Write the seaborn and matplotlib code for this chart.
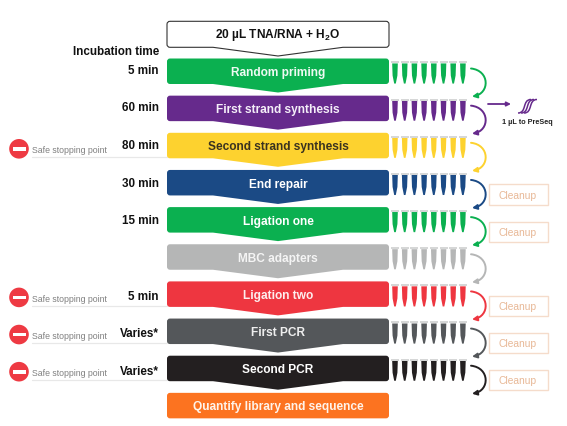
import matplotlib
matplotlib.use("Agg")
import matplotlib.pyplot as plt
from matplotlib.patches import PathPatch, FancyArrowPatch, Circle, Rectangle
from matplotlib.path import Path
import pandas as pd
import seaborn as sns

# ---- content ----
steps = ["Random priming", "First strand synthesis", "Second strand synthesis", "End repair",
         "Ligation one", "MBC adapters", "Ligation two", "First PCR", "Second PCR",
         "Quantify library and sequence"]
step_colors = ["#0bb050", "#662a8c", "#fdd22f", "#1b4a85", "#0bb050", "#b5b6b6",
               "#ee3640", "#54575a", "#231f20", "#fc7320"]
text_colors = ["#eefaf2", "#f4eef8", "#3a3320", "white", "white", "#f4f4f4", "#fdeeee", "#eeeeee", "white", "#fff3ea"]
times = ["5 min", "60 min", "80 min", "30 min", "15 min", "", "5 min", "Varies*", "Varies*", ""]
safe_stop_steps = [2, 6, 7, 8]
cleanup_steps = [3, 4, 6, 7, 8]
n_tubes = 8

sns.set_theme(style="white")
plt.rcParams["font.family"] = ["Liberation Sans", "DejaVu Sans"]
plt.rcParams["mathtext.fontset"] = "custom"
plt.rcParams["mathtext.bf"] = "Liberation Sans:bold"

fig = plt.figure(figsize=(5.67, 4.27), dpi=100)
ax = fig.add_axes([0, 0, 1, 1])
ax.set_xlim(0, 567)
ax.set_ylim(427, 0)
ax.axis("off")

# ---- layout ----
TOP0, PITCH, BOX_H, TIP = 59.5, 37.15, 25.5, 8.5
L, R = 167, 389
MID = (L + R) / 2


def row_top(i):
    return TOP0 + PITCH * i


def chevron(top, h, tip, r=3.0, arrow=True):
    b = top + h
    v = [(L + r, top), (R - r, top), (R, top), (R, top + r), (R, b - r), (R, b), (R - r, b)]
    c = [Path.MOVETO, Path.LINETO, Path.CURVE3, Path.CURVE3, Path.LINETO, Path.CURVE3, Path.CURVE3]
    if arrow:
        v += [(MID + 65, b), (MID, b + tip), (MID - 65, b)]
        c += [Path.LINETO] * 3
    v += [(L + r, b), (L, b), (L, b - r), (L, top + r), (L, top), (L + r, top)]
    c += [Path.LINETO, Path.CURVE3, Path.CURVE3, Path.LINETO, Path.CURVE3, Path.CURVE3]
    return Path(v, c)


# top sample box
ax.add_patch(PathPatch(chevron(22.3, 26, 8.7), fc="white", ec="#333333", lw=0.8, zorder=2))
ax.text(MID, 35.3, r"20 µL TNA/RNA + H$_{\mathbf{2}}$O", ha="center", va="center",
        fontsize=8.6, fontweight="bold", color="#111111")
ax.text(159, 52, "Incubation time", ha="right", va="center", fontsize=8.4,
        fontweight="bold", color="#111111")

# step boxes
for i, (name, col, tc) in enumerate(zip(steps, step_colors, text_colors)):
    top = row_top(i)
    ax.add_patch(PathPatch(chevron(top, BOX_H, TIP, arrow=i < len(steps) - 1), fc=col, ec="none", zorder=3))
    ax.text(MID, top + 13.6, name, ha="center", va="center", fontsize=8.6,
            fontweight="bold", color=tc, zorder=4)
    if times[i]:
        ax.text(159, 70.5 + 37.7 * i, times[i], ha="right", va="center", fontsize=8.4,
                fontweight="bold", color="#111111")

# tube strips, one row of tubes per step except the last
records = [{"step": steps[i], "x": 395 + 9.7 * j, "y": row_top(i) + 15, "cap": row_top(i) + 3.9}
           for i in range(len(steps) - 1) for j in range(n_tubes)]
tubes = pd.DataFrame(records)
# marker y axis points up on screen: wide end up, narrow tip down
tube_marker = Path([(-0.14, 0.5), (0.14, 0.5), (0.12, -0.1), (0.04, -0.5), (-0.04, -0.5), (-0.12, -0.1), (-0.14, 0.5)],
                   closed=True)
cap_marker = Path([(-0.5, -0.13), (0.5, -0.13), (0.5, 0.13), (-0.5, 0.13), (-0.5, -0.13)], closed=True)
palette = dict(zip(steps, step_colors))
sns.scatterplot(data=tubes, x="x", y="y", hue="step", palette=palette, marker=tube_marker,
                s=210, linewidth=0, legend=False, ax=ax, zorder=3)
sns.scatterplot(data=tubes, x="x", y="cap", color="#d6d7d7", marker=cap_marker,
                s=27, linewidth=0, legend=False, ax=ax, zorder=4)
ax.set_xlim(0, 567)
ax.set_ylim(427, 0)
ax.set_xlabel("")
ax.set_ylabel("")

# curved transfer arrows
for i in range(len(steps) - 1):
    top = row_top(i)
    arc = Path([(471, top + 10), (490, top + 12), (490, top + 35), (472, top + 38)],
               [Path.MOVETO, Path.CURVE4, Path.CURVE4, Path.CURVE4])
    ax.add_patch(FancyArrowPatch(path=arc, arrowstyle="-|>", mutation_scale=7, lw=1.4,
                                 color=step_colors[i], zorder=3))

# cleanup boxes
for i in cleanup_steps:
    top = row_top(i)
    ax.add_patch(Rectangle((488.5, top + 14.5), 59, 20.2, fc="white", ec="#f5dccb", lw=1.0))
    ax.text(518, top + 24.7, "Cleanup", ha="center", va="center", fontsize=7.4, color="#e8b896")

# safe stopping points
for i in safe_stop_steps:
    cy = row_top(i) + 16
    ax.plot([32, L], [cy + 8.5, cy + 8.5], color="#e8e8e8", lw=0.9, zorder=1)
    ax.add_patch(Circle((19, cy), 9.8, fc="#ee3a43", ec="none", zorder=2))
    ax.add_patch(Rectangle((12.5, cy - 1.8), 13, 3.6, fc="white", ec="none", zorder=3))
    ax.text(32, cy + 1, "Safe stopping point", ha="left", va="center", fontsize=6.3, color="#808080")

# PreSeq side branch
PURPLE = step_colors[1]
ax.add_patch(FancyArrowPatch((488, 105), (511, 105), arrowstyle="-|>", mutation_scale=6,
                             lw=1.3, color=PURPLE, shrinkA=0, shrinkB=0))
for dx in (0, 3, 6):
    ax.add_patch(PathPatch(Path([(518 + dx, 114), (527 + dx, 114), (522 + dx, 100.5), (531 + dx, 100.5)],
                                [Path.MOVETO, Path.CURVE4, Path.CURVE4, Path.CURVE4]),
                           fc="none", ec=PURPLE, lw=1.1))
ax.text(527.5, 123, "1 µL to PreSeq", ha="center", va="center", fontsize=5.2,
        fontweight="bold", color="#222222")

fig.savefig("out.png", dpi=100, facecolor="white")
